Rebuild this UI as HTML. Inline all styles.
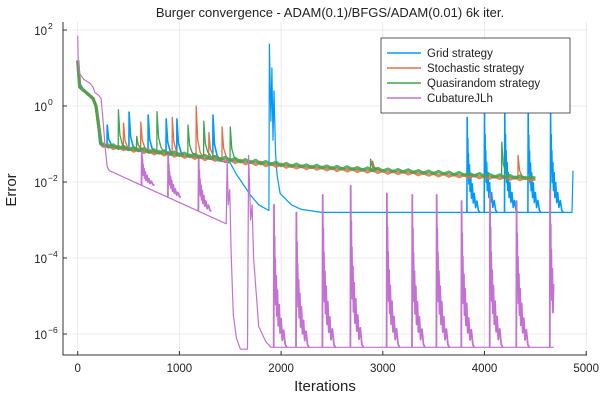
<!DOCTYPE html>
<html><head><meta charset="utf-8"><style>
body{margin:0;background:#fff;}
svg{display:block;font-family:"Liberation Sans",sans-serif;}
</style></head><body>
<svg id="chart" width="600" height="400" viewBox="0 0 600 400">
<rect x="0" y="0" width="600" height="400" fill="#fff"/>
<text x="330" y="17" font-size="13" text-anchor="middle" fill="#222">Burger convergence - ADAM(0.1)/BFGS/ADAM(0.01) 6k iter.</text>
<g id="grid"></g>
<defs><clipPath id="pc"><rect x="63" y="22" width="524" height="333"/></clipPath></defs>
<g id="series" clip-path="url(#pc)"></g>
<g id="axes"></g>
<text x="325" y="391" font-size="15" text-anchor="middle" fill="#222">Iterations</text>
<text x="16" y="190" font-size="15" text-anchor="middle" fill="#222" transform="rotate(-90 16 190)">Error</text>
<g id="legend"></g>
</svg>
<script>
const xTicks=[0,1000,2000,3000,4000,5000];
const yTickExps=[2,0,-2,-4,-6];
const seriesNames=["Grid strategy","Stochastic strategy","Quasirandom strategy","CubatureJLh"];
const seriesColors=["#009AFA","#E36F47","#3EA44E","#C371D2"];
// grid strategy: [iteration, log10 error]
const gridPts=[[0,1.2],[20,0.6],[80,0.35],[170,0.1],[200,-0.6],[215,-1.0],[260,-1.05],[300,-1.08],[480,-1.15],[690,-1.22],[880,-1.28],[1080,-1.33],[1300,-1.4],[1500,-1.5],[1560,-1.8],[1600,-1.95],[1700,-2.35],[1780,-2.6],[1880,-2.75],[1885,1.63],[1900,-0.4],[1910,1.0],[1920,-0.9],[1930,0.4],[1945,-1.2],[1960,-1.8],[1990,-2.3],[2100,-2.6],[2200,-2.72],[2400,-2.8],[3800,-2.8],[4860,-2.8],[4870,-1.7]];
const gridSpikeIters=[290,505,693,870,975,1330,3830,4000,4200,4430,4650];
const gridSpikePeaks=[-0.5,-0.16,-0.24,-0.34,-0.34,-0.24,-0.3,-0.18,-0.18,-0.2,-0.18];
const bandIters=[250,300,350,400,450,500,550,600,650,700,750,800,850,900,950,1000,1050,1100,1150,1200,1250,1300,1350,1400,1450,1500,1550,1600,1650,1700,1750,1800,1850,1900,1950,2000,2050,2100,2150,2200,2250,2300,2350,2400,2450,2500,2550,2600,2650,2700,2750,2800,2850,2900,2950,3000,3050,3100,3150,3200,3250,3300,3350,3400,3450,3500,3550,3600,3650,3700,3750,3800,3850,3900,3950,4000,4050,4100,4150,4200,4250,4300,4350,4400,4450,4500];
const quasiVals=[-1.00,-1.08,-1.02,-1.12,-1.06,-1.15,-1.09,-1.18,-1.12,-1.22,-1.15,-1.24,-1.18,-1.27,-1.21,-1.30,-1.24,-1.33,-1.27,-1.35,-1.30,-1.38,-1.33,-1.41,-1.35,-1.44,-1.38,-1.47,-1.41,-1.49,-1.43,-1.52,-1.46,-1.54,-1.48,-1.57,-1.51,-1.59,-1.53,-1.60,-1.55,-1.62,-1.56,-1.63,-1.58,-1.65,-1.59,-1.66,-1.60,-1.67,-1.62,-1.69,-1.63,-1.70,-1.64,-1.71,-1.66,-1.73,-1.67,-1.74,-1.68,-1.75,-1.70,-1.77,-1.71,-1.78,-1.72,-1.79,-1.74,-1.81,-1.75,-1.82,-1.77,-1.84,-1.78,-1.85,-1.80,-1.87,-1.81,-1.88,-1.83,-1.90,-1.84,-1.91,-1.86,-1.90];
const stochVals=[-1.06,-1.02,-1.12,-1.06,-1.15,-1.10,-1.19,-1.13,-1.22,-1.16,-1.26,-1.19,-1.29,-1.22,-1.32,-1.26,-1.35,-1.29,-1.38,-1.32,-1.41,-1.35,-1.43,-1.38,-1.46,-1.41,-1.49,-1.43,-1.52,-1.46,-1.54,-1.48,-1.57,-1.51,-1.59,-1.53,-1.61,-1.56,-1.63,-1.58,-1.65,-1.59,-1.66,-1.61,-1.68,-1.62,-1.70,-1.64,-1.71,-1.65,-1.72,-1.67,-1.74,-1.68,-1.75,-1.70,-1.77,-1.71,-1.78,-1.72,-1.79,-1.74,-1.81,-1.75,-1.82,-1.77,-1.84,-1.78,-1.85,-1.80,-1.86,-1.81,-1.88,-1.82,-1.89,-1.84,-1.90,-1.85,-1.91,-1.86,-1.93,-1.87,-1.94,-1.88,-1.95,-1.92];
const bandStart=[[0,1.2],[20,0.5],[150,0.2],[180,0.0],[210,-0.6],[230,-1.0]];
const stochSpikeIters=[450,620,930,1165,1290,1420,2900,4330];
const stochSpikePeaks=[-0.45,-0.42,-0.3,0.0,-0.7,-0.55,-1.45,-1.3];
const quasiSpikeIters=[400,580,780,1085,1240,1500,2880,4170];
const quasiSpikePeaks=[-0.1,-0.8,-0.15,-0.5,-0.4,-0.55,-1.4,-0.95];
const cubPts=[[0,1.85],[5,1.2],[20,0.85],[60,0.7],[120,0.6],[150,0.5],[170,0.35],[200,0.3],[230,0.2],[250,-0.4],[270,-1.1],[290,-1.6],[310,-1.7],[1460,-3.1],[1470,-1.4],[1480,-2.6],[1495,-2.2],[1510,-4.0],[1530,-5.5],[1560,-6.1],[1600,-6.4],[1670,-6.4],[1680,-1.3],[1700,-3.0],[1715,-2.6],[1730,-4.0],[1780,-5.8],[1850,-6.2],[1900,-6.35],[4680,-6.35]];
const cubSpikeIters=[630,890,1190,1930,2150,2409,2684,3040,3290,3530,3775,4054,4316,4645];
const cubSpikePeaks=[-1.2,-1.3,-1.4,-2.6,-2.8,-2.34,-2.1,-2.3,-2.34,-2.34,-2.5,-2.3,-2.5,-2.2];
const cubEndIter=4680;

const NS="http://www.w3.org/2000/svg";
const X=it=>77.7+it*0.1017;
const Y=l=>30+(2-l)*38;
// decay shape template (relative offsets / fractions of spike height) - styling, not data
const decayOff=[0,3,6,9,12,17,22,28,34,42,50,60,70,82,95,110,125];
const decayFrac=[1,0.5,0.78,0.4,0.62,0.3,0.5,0.22,0.4,0.15,0.3,0.1,0.2,0.05,0.12,0.02,0];
function mk(tag,attrs,parent){const e=document.createElementNS(NS,tag);for(const k in attrs)e.setAttribute(k,attrs[k]);parent.appendChild(e);return e;}
const G=document.getElementById('grid'),S=document.getElementById('series'),A=document.getElementById('axes'),L=document.getElementById('legend');
xTicks.forEach(t=>{
  const l=mk('line',{x1:X(t),x2:X(t),y1:22,y2:355,stroke:'#e6e6e6','stroke-width':0.8},G);
  
  
  const tk=mk('line',{x1:X(t),x2:X(t),y1:355,y2:351,stroke:'#333'},A);
  
  
  const tx=mk('text',{x:X(t),y:372,'font-size':11.5,'text-anchor':'middle',fill:'#222'},A);
  tx.textContent=t;
  
  
});
yTickExps.forEach(e=>{
  const l=mk('line',{x1:63,x2:587,y1:Y(e),y2:Y(e),stroke:'#e6e6e6','stroke-width':0.8},G);
  
  
  const tk=mk('line',{x1:63,x2:67,y1:Y(e),y2:Y(e),stroke:'#333'},A);
  
  
  const tx=mk('text',{x:47,y:Y(e)+5,'font-size':11.5,'text-anchor':'end',fill:'#222'},A);
  tx.textContent='10';
  
  
  const sp=mk('text',{x:48,y:Y(e)-1,'font-size':8.5,'text-anchor':'start',fill:'#222'},A);
  sp.textContent=(e<0?'\u2212'+(-e):''+e);
  
  
});
const ax=mk('path',{d:'M63 22V355H587',fill:'none',stroke:'#333','stroke-width':1},A);



function poly(pts,color,w,op,name){
  const p=mk('polyline',{points:pts.map(q=>X(q[0]).toFixed(1)+','+Y(q[1]).toFixed(1)).join(' '),fill:'none',stroke:color,'stroke-width':w,'stroke-opacity':op,'stroke-linejoin':'round'},S);
  
  
}
function spike(s,peak,base,color,w,name,wide,maxIt){
  const d=peak-base;
  let pts=wide?[[s-3,base]].concat(decayOff.map((o,i)=>[s+o,base+decayFrac[i]*d]))
    :[[s-2,base],[s,peak],[s+15,base+0.35*d],[s+40,base+0.1*d],[s+70,base]];
  if(maxIt!==undefined)pts=pts.filter(p=>p[0]<=maxIt);
  poly(pts,color,w,1,name);
}
function bandAt(its,vals,it){for(let i=0;i<its.length-1;i++){if(it<=its[i+1])return vals[i]+(vals[i+1]-vals[i])*(it-its[i])/(its[i+1]-its[i]);}return vals[vals.length-1];}
function lineAt(pts,it){for(let i=0;i<pts.length-1;i++){if(it<=pts[i+1][0])return pts[i][1]+(pts[i+1][1]-pts[i][1])*(it-pts[i][0])/(pts[i+1][0]-pts[i][0]);}return pts[pts.length-1][1];}

// grid
poly(gridPts,seriesColors[0],1.2,1,'grid-strategy-line');
gridSpikeIters.forEach((s,i)=>spike(s,gridSpikePeaks[i],lineAt(gridPts,s),seriesColors[0],1.6,'grid-strategy-spike',s>3800));
// stochastic
poly(bandStart.concat(bandIters.map((t,i)=>[t,stochVals[i]])),seriesColors[1],3.2,0.85,'stochastic-strategy-line');
stochSpikeIters.forEach((s,i)=>spike(s,stochSpikePeaks[i],bandAt(bandIters,stochVals,s),seriesColors[1],1.3,'stochastic-strategy-spike',false));
// quasirandom
poly(bandStart.concat(bandIters.map((t,i)=>[t,quasiVals[i]])),seriesColors[2],3.2,0.85,'quasirandom-strategy-line');
quasiSpikeIters.forEach((s,i)=>spike(s,quasiSpikePeaks[i],bandAt(bandIters,quasiVals,s),seriesColors[2],1.3,'quasirandom-strategy-spike',false));
// cubature
poly(cubPts,seriesColors[3],1.2,1,'cubature-jlh-line');
cubSpikeIters.forEach((s,i)=>spike(s,cubSpikePeaks[i],lineAt(cubPts,s),seriesColors[3],1.8,'cubature-jlh-spike',true,cubEndIter));

// legend
const lb=mk('rect',{x:381,y:38,width:189,height:75,fill:'#fff',stroke:'#333','stroke-width':0.8},L);


seriesNames.forEach((n,i)=>{
  const y=53+i*15;
  const ln=mk('line',{x1:387,x2:421,y1:y,y2:y,stroke:seriesColors[i],'stroke-width':1.5},L);
  
  
  const t=mk('text',{x:427,y:y+4,'font-size':11.5,fill:'#222'},L);
  t.textContent=n;
  
  
});
</script>
</body></html>
